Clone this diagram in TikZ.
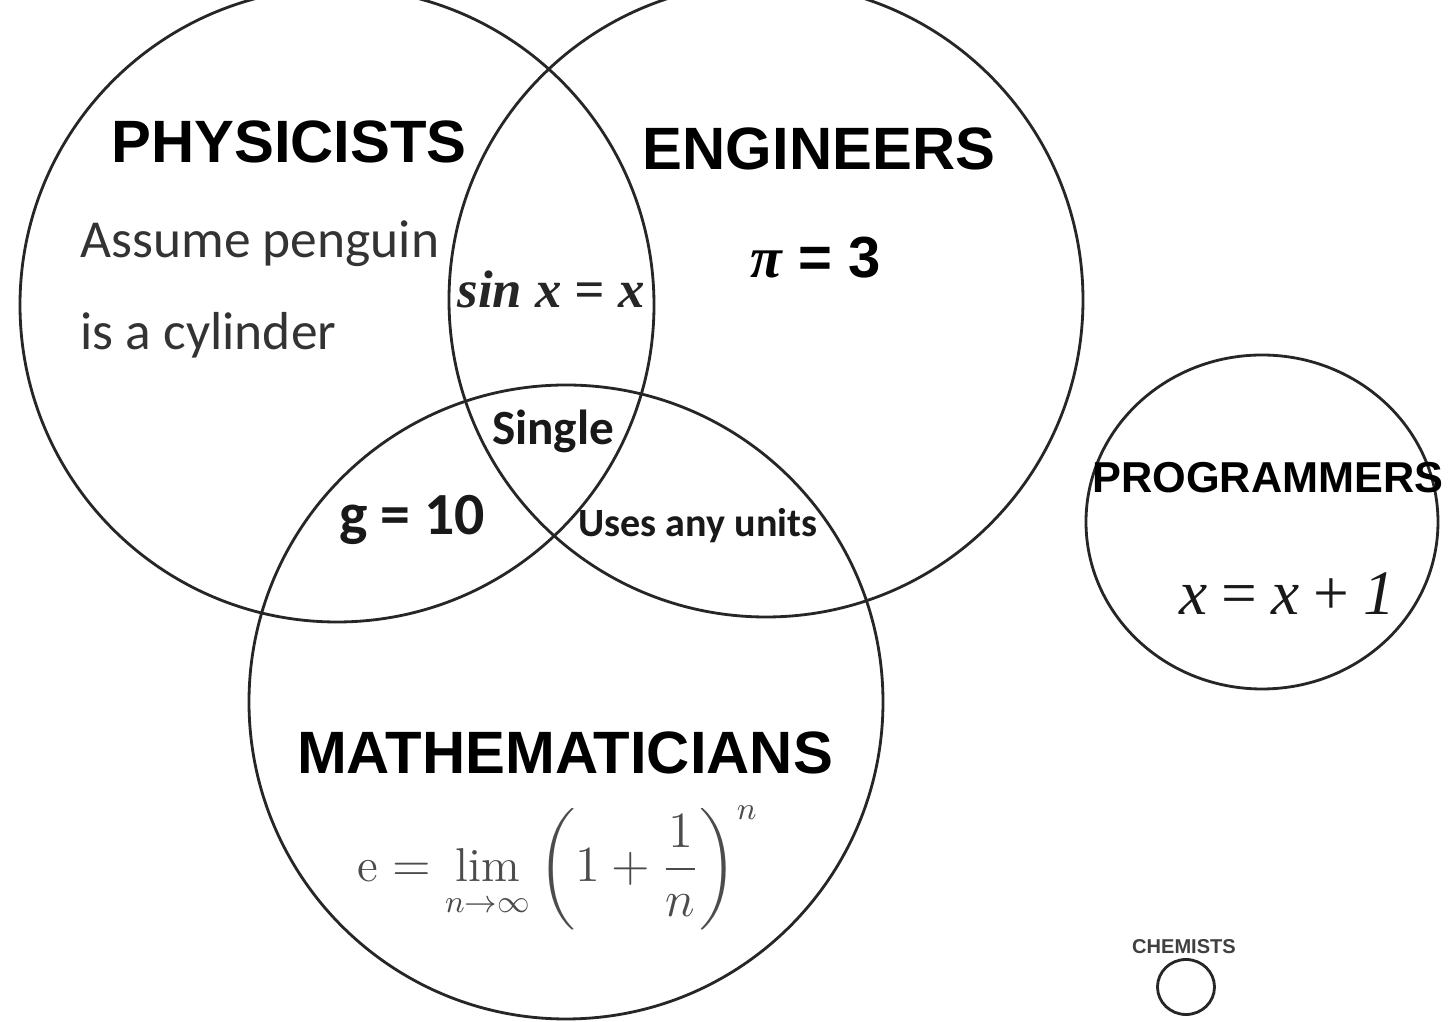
\documentclass[tikz,border=0pt]{standalone}
\usepackage{fontspec}
\usepackage{amsmath}
\newfontfamily\headfont{Liberation Sans}
\newfontfamily\notefont{Carlito}
\newfontfamily\eqfont{Liberation Serif}
\tikzset{
  setline/.style={line width=0.8pt,draw=black!85},
  grouplabel/.style={inner sep=0pt,anchor=base,font=\headfont\bfseries\fontsize{#1}{#1}\selectfont},
  notelabel/.style={inner sep=0pt,anchor=base west,text=black!80,font=\notefont\fontsize{#1}{#1}\selectfont},
  boldnote/.style={inner sep=0pt,anchor=base,text=black!90,font=\notefont\bfseries\fontsize{#1}{#1}\selectfont},
  eqlabel/.style={inner sep=0pt,anchor=base,font=\eqfont\itshape\fontsize{#1}{#1}\selectfont}
}
\begin{document}
\begin{tikzpicture}[x=0.01cm,y=-0.01cm]
            \fill[white] (0,0) rectangle (1450,1022);
            \useasboundingbox (0,0) rectangle (1450,1022);
            % the three overlapping sets
            \foreach \name/\cx/\cy in {phys/337/305,engi/766/300,math/566/702}{
                    \coordinate (\name) at (\cx,\cy);
                    \draw[setline] (\name) circle [radius=317];
                }
            \coordinate (prog) at (1262,522);
            \coordinate (chem) at (1186,987);
            \draw[setline] (prog) ellipse [x radius=176,y radius=167];
            \draw[setline] (chem) ellipse [x radius=28.5,y radius=27.5];
            % names of the sets
            \node[grouplabel=17] (physname) at (289,163) {PHYSICISTS};
            \node[grouplabel=17] (enginame) at (819,170) {ENGINEERS};
            \node[grouplabel=17] (mathname) at (565,774) {MATHEMATICIANS};
            \node[grouplabel=12.3] (progname) at (1268,493) {PROGRAMMERS};
            \node[grouplabel=5.7,text=black!75] (chemname) at (1184,954) {CHEMISTS};
            % what goes in each region
            \node[notelabel=15.2] (penguin) at (80,258) {Assume penguin};
            \node[notelabel=15.2] (cylinder) at (80,350) {is a cylinder};
            \node[eqlabel=15,font=\eqfont\bfseries\itshape\fontsize{15}{15}\selectfont,text=black!85] (sinx) at (551,308) {sin x = x};
            \node[grouplabel=16.5] (piequal) at (816,278) {{\eqfont\bfseries\itshape π} = 3};
            \node[boldnote=14] (single) at (553,445) {Single};
            \node[boldnote=17] (gequal) at (412,535) {g = 10};
            \node[boldnote=11.4] (units) at (698,537) {Uses any units};
            \node[inner sep=0pt,anchor=base,text=black!70,font=\fontsize{13.5}{16}\selectfont] (euler) at (558,882)
                {$\displaystyle \mathrm{e}=\lim_{n\to\infty}\left(1+\frac{1}{n}\right)^{n}$};
            \node[eqlabel=18,text=black!90] (xplus) at (1287,615) {x\,=\,x\,+\,1};
        \end{tikzpicture}
\end{document}
